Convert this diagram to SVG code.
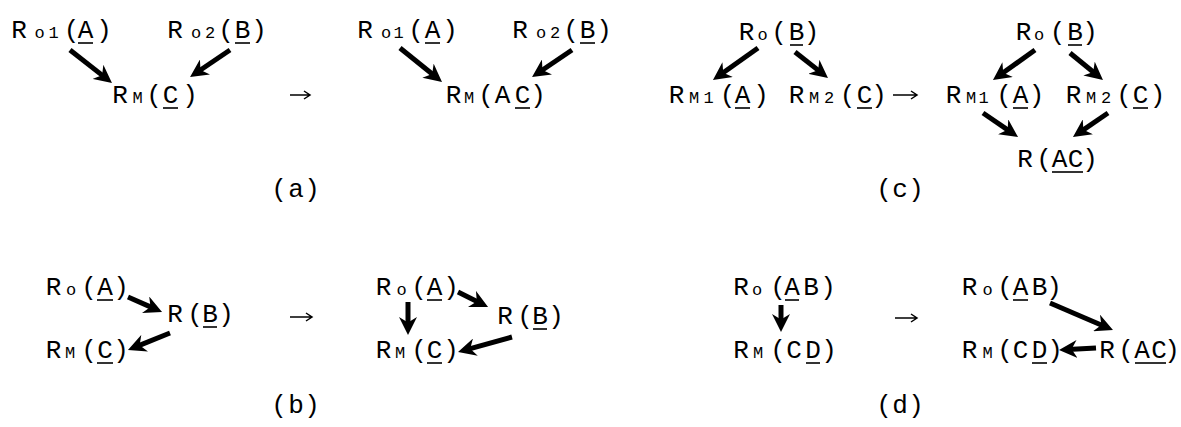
<svg xmlns="http://www.w3.org/2000/svg" width="1181" height="427" viewBox="0 0 1181 427">
<style>
.t{font-family:"Liberation Mono","DejaVu Sans Mono",monospace;font-size:26px;text-anchor:middle;fill:#000}
.s{font-size:17px}
.u{stroke:#000;stroke-width:1.6}
.a{stroke:#000;stroke-width:5;fill:none;marker-end:url(#h)}
.th{stroke:#000;stroke-width:1.5;fill:none}
</style>
<defs>
<marker id="h" viewBox="0 0 10 10" refX="5" refY="5" markerWidth="3.6" markerHeight="3.6" markerUnits="strokeWidth" orient="auto"><path d="M0,0 L10,5 L0,10 L3,5 Z" fill="#000"/></marker>
</defs>
<rect width="1181" height="427" fill="#fff"/>

<!-- (a) left -->
<g id="a1-ro1"><text class="t" y="38"><tspan x="19">R</tspan><tspan class="s" x="39.5 53.5">o1</tspan><tspan x="71.5 85.5 104">(A)</tspan></text><line class="u" x1="78" y1="43" x2="93" y2="43"/></g>
<g id="a1-ro2"><text class="t" y="38"><tspan x="175">R</tspan><tspan class="s" x="196 210">o2</tspan><tspan x="226 242.5 259">(B)</tspan></text><line class="u" x1="235" y1="43" x2="250" y2="43"/></g>
<g id="a1-rm"><text class="t" y="103"><tspan x="120">R</tspan><tspan class="s" x="137.5">M</tspan><tspan x="154 170.5 190">(C)</tspan></text><line class="u" x1="163" y1="108" x2="178" y2="108"/></g>
<!-- (a) right -->
<g id="a2-ro1"><text class="t" y="38"><tspan x="365">R</tspan><tspan class="s" x="386 398.5">o1</tspan><tspan x="416 432.5 450">(A)</tspan></text><line class="u" x1="425" y1="43" x2="440" y2="43"/></g>
<g id="a2-ro2"><text class="t" y="38"><tspan x="520">R</tspan><tspan class="s" x="541 555">o2</tspan><tspan x="571 587.5 604">(B)</tspan></text><line class="u" x1="580" y1="43" x2="595" y2="43"/></g>
<g id="a2-rm"><text class="t" y="103"><tspan x="453.5">R</tspan><tspan class="s" x="469">M</tspan><tspan x="486 502.5 522.5 538">(AC)</tspan></text><line class="u" x1="515" y1="108" x2="530" y2="108"/></g>
<g id="lab-a"><text class="t" y="197" x="279 296 312">(a)</text></g>

<!-- (b) left -->
<g id="b1-ro"><text class="t" y="295"><tspan x="53.5">R</tspan><tspan class="s" x="71">o</tspan><tspan x="89 105 121">(A)</tspan></text><line class="u" x1="97" y1="300" x2="113" y2="300"/></g>
<g id="b1-r"><text class="t" y="322" x="175 195 210 226">R(B)</text><line class="u" x1="203" y1="327" x2="217" y2="327"/></g>
<g id="b1-rm"><text class="t" y="358"><tspan x="53.5">R</tspan><tspan class="s" x="70">M</tspan><tspan x="89 105 121">(C)</tspan></text><line class="u" x1="97" y1="363" x2="113" y2="363"/></g>
<!-- (b) right -->
<g id="b2-ro"><text class="t" y="295"><tspan x="383.5">R</tspan><tspan class="s" x="401.5">o</tspan><tspan x="419 434.5 451">(A)</tspan></text><line class="u" x1="427" y1="300" x2="442" y2="300"/></g>
<g id="b2-r"><text class="t" y="324" x="505 525 540 556">R(B)</text><line class="u" x1="533" y1="329" x2="547" y2="329"/></g>
<g id="b2-rm"><text class="t" y="358"><tspan x="383.5">R</tspan><tspan class="s" x="400">M</tspan><tspan x="419 434.5 451">(C)</tspan></text><line class="u" x1="427" y1="363" x2="442" y2="363"/></g>
<g id="lab-b"><text class="t" y="413" x="279 296 312">(b)</text></g>

<!-- (c) left -->
<g id="c1-ro"><text class="t" y="40"><tspan x="746.5">R</tspan><tspan class="s" x="762.5">o</tspan><tspan x="779 796.5 811.5">(B)</tspan></text><line class="u" x1="790" y1="45" x2="803" y2="45"/></g>
<g id="c1-rm1"><text class="t" y="103"><tspan x="676.5">R</tspan><tspan class="s" x="694 708.5">M1</tspan><tspan x="727.5 742.5 761">(A)</tspan></text><line class="u" x1="735" y1="108" x2="750" y2="108"/></g>
<g id="c1-rm2"><text class="t" y="103"><tspan x="796.5">R</tspan><tspan class="s" x="814 829">M2</tspan><tspan x="847.5 864.5 879">(C)</tspan></text><line class="u" x1="857" y1="108" x2="872" y2="108"/></g>
<!-- (c) right -->
<g id="c2-ro"><text class="t" y="40"><tspan x="1023.5">R</tspan><tspan class="s" x="1039">o</tspan><tspan x="1057.5 1075 1090">(B)</tspan></text><line class="u" x1="1068" y1="45" x2="1082" y2="45"/></g>
<g id="c2-rm1"><text class="t" y="103"><tspan x="953.5">R</tspan><tspan class="s" x="971 983.5">M1</tspan><tspan x="1004 1020.5 1036.5">(A)</tspan></text><line class="u" x1="1013" y1="108" x2="1028" y2="108"/></g>
<g id="c2-rm2"><text class="t" y="103"><tspan x="1073.5">R</tspan><tspan class="s" x="1091 1106">M2</tspan><tspan x="1124 1140.5 1157.5">(C)</tspan></text><line class="u" x1="1133" y1="108" x2="1148" y2="108"/></g>
<g id="c2-r"><text class="t" y="167" x="1025 1044 1059.5 1075.5 1090">R(AC)</text><line class="u" x1="1052" y1="172" x2="1083" y2="172"/></g>
<g id="lab-c"><text class="t" y="197" x="884 900 916">(c)</text></g>

<!-- (d) left -->
<g id="d1-ro"><text class="t" y="295"><tspan x="741">R</tspan><tspan class="s" x="757">o</tspan><tspan x="778 792 811 828">(AB)</tspan></text><line class="u" x1="785" y1="300" x2="799" y2="300"/></g>
<g id="d1-rm"><text class="t" y="358"><tspan x="741">R</tspan><tspan class="s" x="758">M</tspan><tspan x="778 794 813 829">(CD)</tspan></text><line class="u" x1="806" y1="363" x2="820" y2="363"/></g>
<!-- (d) right -->
<g id="d2-ro"><text class="t" y="295"><tspan x="969.5">R</tspan><tspan class="s" x="987.5">o</tspan><tspan x="1005 1020.5 1039.5 1054">(AB)</tspan></text><line class="u" x1="1013" y1="300" x2="1028" y2="300"/></g>
<g id="d2-rm"><text class="t" y="358"><tspan x="969.5">R</tspan><tspan class="s" x="987.5">M</tspan><tspan x="1005 1020.5 1039.5 1055">(CD)</tspan></text><line class="u" x1="1032" y1="363" x2="1047" y2="363"/></g>
<g id="d2-r"><text class="t" y="358" x="1107 1126 1142 1159 1172">R(AC)</text><line class="u" x1="1135" y1="363" x2="1166" y2="363"/></g>
<g id="lab-d"><text class="t" y="413" x="884 900 916">(d)</text></g>

<g id="connectors">
<path class="a" d="M70,50 L104.9,77.4"/>
<path class="a" d="M230,50 L197.5,72"/>
<path class="a" d="M400,48 L435,76.3"/>
<path class="a" d="M572,50 L539.5,72"/>
<path class="th" d="M290,95 H310 M304,91 L310,95 L304,99"/>

<path class="a" d="M128,297 L153.8,308.4"/>
<path class="a" d="M170,333 L136.3,346.6"/>
<path class="a" d="M458,292 L480,303"/>
<path class="a" d="M408,302 L408,326"/>
<path class="a" d="M512,337 L466.7,349.6"/>
<path class="th" d="M290,317 H312 M306,313 L312,317 L306,321"/>

<path class="a" d="M758,48 L720.3,74.8"/>
<path class="a" d="M795,52 L820.9,72.4"/>
<path class="th" d="M893,95 H917 M911,91 L917,95 L911,99"/>
<path class="a" d="M1035,50 L1000.3,74.8"/>
<path class="a" d="M1070,53 L1096,74.3"/>
<path class="a" d="M983,113 L1010.6,131.9"/>
<path class="a" d="M1108,113 L1080.4,131.9"/>

<path class="a" d="M781,305 L781,323"/>
<path class="th" d="M895,318 H917 M911,314 L917,318 L911,322"/>
<path class="a" d="M1050,303 L1104.7,326.5"/>
<path class="a" d="M1096,348 L1068,349.5"/>
</g>
</svg>
